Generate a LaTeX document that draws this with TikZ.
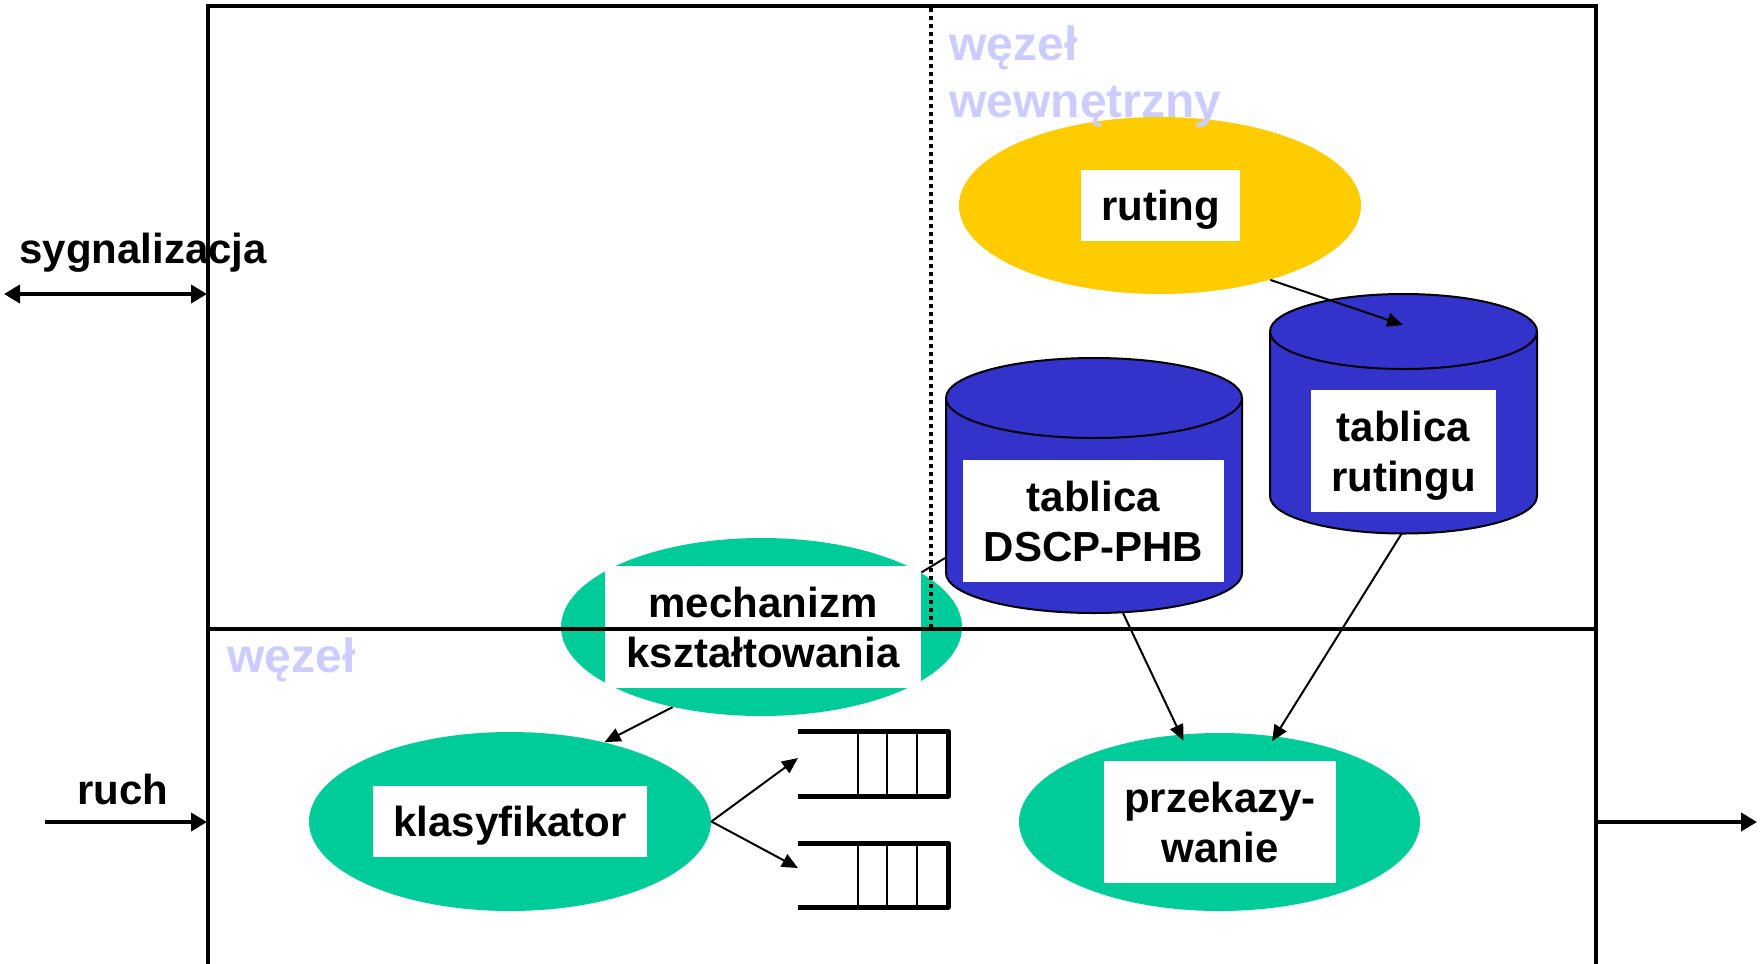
\documentclass[tikz,border=0pt]{standalone}
\usepackage{fontspec}
\setmainfont{Liberation Sans}
\usetikzlibrary{shapes.geometric,arrows.meta}
\definecolor{routeyellow}{HTML}{FFCC00}
\definecolor{funcgreen}{HTML}{00CC99}
\definecolor{tableblue}{HTML}{3333CC}
\definecolor{zonelabel}{HTML}{CCCCFF}

\begin{document}
\begin{tikzpicture}[x=0.5pt,y=-0.5pt,
  blob/.style={ellipse, inner sep=0pt},
  card/.style={fill=white, inner sep=0pt, align=center,
    font=\bfseries\fontsize{21}{25}\selectfont},
  zone/.style={text=zonelabel, inner sep=0pt, align=left,
    font=\bfseries\fontsize{24}{28.5}\selectfont},
  sidetext/.style={inner sep=0pt, font=\bfseries\fontsize{21}{25}\selectfont},
  frame/.style={line width=2pt},
  flow/.style={line width=1pt, -{Triangle[length=8pt,width=7pt]}},
  bigflow/.style={line width=2pt, -{Triangle[length=8pt,width=9pt]}},
  drum/.style={fill=tableblue, draw=black, line width=1pt},
  slot/.style={line width=2.5pt, line join=round},
  divider/.style={line width=1pt},
]
\useasboundingbox (0,0) rectangle (1762,964);

% functional blocks
\node[blob, fill=routeyellow, minimum width=201pt, minimum height=88.5pt] (ruting) at (1160,205.5) {};
\node[blob, fill=funcgreen, minimum width=200.5pt, minimum height=89pt] (mech) at (761.5,627) {};
\node[blob, fill=funcgreen, minimum width=201pt, minimum height=89.5pt] (klas) at (510,821.5) {};
\node[blob, fill=funcgreen, minimum width=200.5pt, minimum height=89pt] (przek) at (1219.5,822) {};

% DSCP-PHB table drum
\fill[tableblue] (946,398) rectangle (1242,573);
\path[drum] (946,398) -- (946,573)
  arc[start angle=180, end angle=0, x radius=148, y radius=40] -- (1242,398);
\path[drum] (1094,398) ellipse[x radius=148, y radius=40];

% routing table drum
\fill[tableblue] (1270,331.5) rectangle (1537,496);
\path[drum] (1270,331.5) -- (1270,496)
  arc[start angle=180, end angle=0, x radius=133.5, y radius=37.5] -- (1537,331.5);
\path[drum] (1403.5,331.5) ellipse[x radius=133.5, y radius=37.5];

% labels on white cards
\node[card, minimum width=79.5pt, minimum height=35.5pt, text depth=0pt] (rutBox) at (1160.5,205.5) {ruting};
\node[card, minimum width=130.5pt, minimum height=61pt] (dscpBox) at (1093.5,521) {tablica\\DSCP-PHB};
\node[card, minimum width=92.5pt, minimum height=61pt, text depth=0pt] (rtabBox) at (1403.5,451) {tablica\\rutingu};
\node[card, minimum width=158pt, minimum height=61pt] (mechBox) at (763,627) {mechanizm\\kształtowania};
\node[card, minimum width=137pt, minimum height=35.5pt, text depth=0pt] (klasBox) at (510,821.5) {klasyfikator};
\node[card, minimum width=116pt, minimum height=61pt] (przekBox) at (1220,822) {przekazy-\\wanie};

% zone captions
\node[zone, anchor=north west] (innerZone) at (949,25) {węzeł\\wewnętrzny};
\node[zone, anchor=base west] (edgeZone) at (227,672) {węzeł};

% side captions
\node[sidetext, anchor=base west] (sigText) at (19,263) {sygnalizacja};
\node[sidetext, anchor=base west] (trafficText) at (77,804) {ruch};

% node frame, boundary between zones and inner-node divider
\draw[frame, line join=miter] (208,990) -- (208,6) -- (1596,6) -- (1596,990);
\draw[frame] (208,629) -- (1596,629);
\draw[line width=1.8pt, dash pattern=on 1.8pt off 2.2pt] (931,8) -- (931,627);

% output queues
\coordinate (qa) at (798,758);
\coordinate (qb) at (798,868);
\draw[slot] (798,731) -- (948,731) -- (948,796) -- (798,796);
\foreach \xx in {858,887,917} \draw[divider] (\xx,731) -- (\xx,796);
\draw[slot] (798,843) -- (948,843) -- (948,907) -- (798,907);
\foreach \xx in {858,887,917} \draw[divider] (\xx,843) -- (\xx,907);

% connector end points on the drums and on the frame
\coordinate (rtabIn) at (1403,325);
\coordinate (rtabBot) at (1402,533);
\coordinate (dscpBot) at (1123,613);
\coordinate (dscpSide) at (945,558);
\coordinate (sigOut) at (4,294);
\coordinate (sigIn) at (207,294);
\coordinate (trafficSrc) at (45,822);
\coordinate (trafficIn) at (207,822);
\coordinate (exitOut) at (1597,822);
\coordinate (exitEnd) at (1757,822);

% connectors
\draw[flow] (ruting.-34) -- (rtabIn);
\draw[flow] (mech.222) -- (klas.40);
\draw[flow] (klas.east) -- (qa);
\draw[flow] (klas.east) -- (qb);
\draw[flow, shorten >=-3.5pt] (dscpBot) -- (przek.114);
\draw[flow, shorten >=-3pt] (rtabBot) -- (przek.57);
\draw[line width=1pt] (dscpSide) -- (mechBox.19);

\draw[bigflow, {Triangle[length=8pt,width=9pt]}-{Triangle[length=8pt,width=9pt]}] (sigOut) -- (sigIn);
\draw[bigflow] (trafficSrc) -- (trafficIn);
\draw[bigflow] (exitOut) -- (exitEnd);
\end{tikzpicture}
\end{document}
